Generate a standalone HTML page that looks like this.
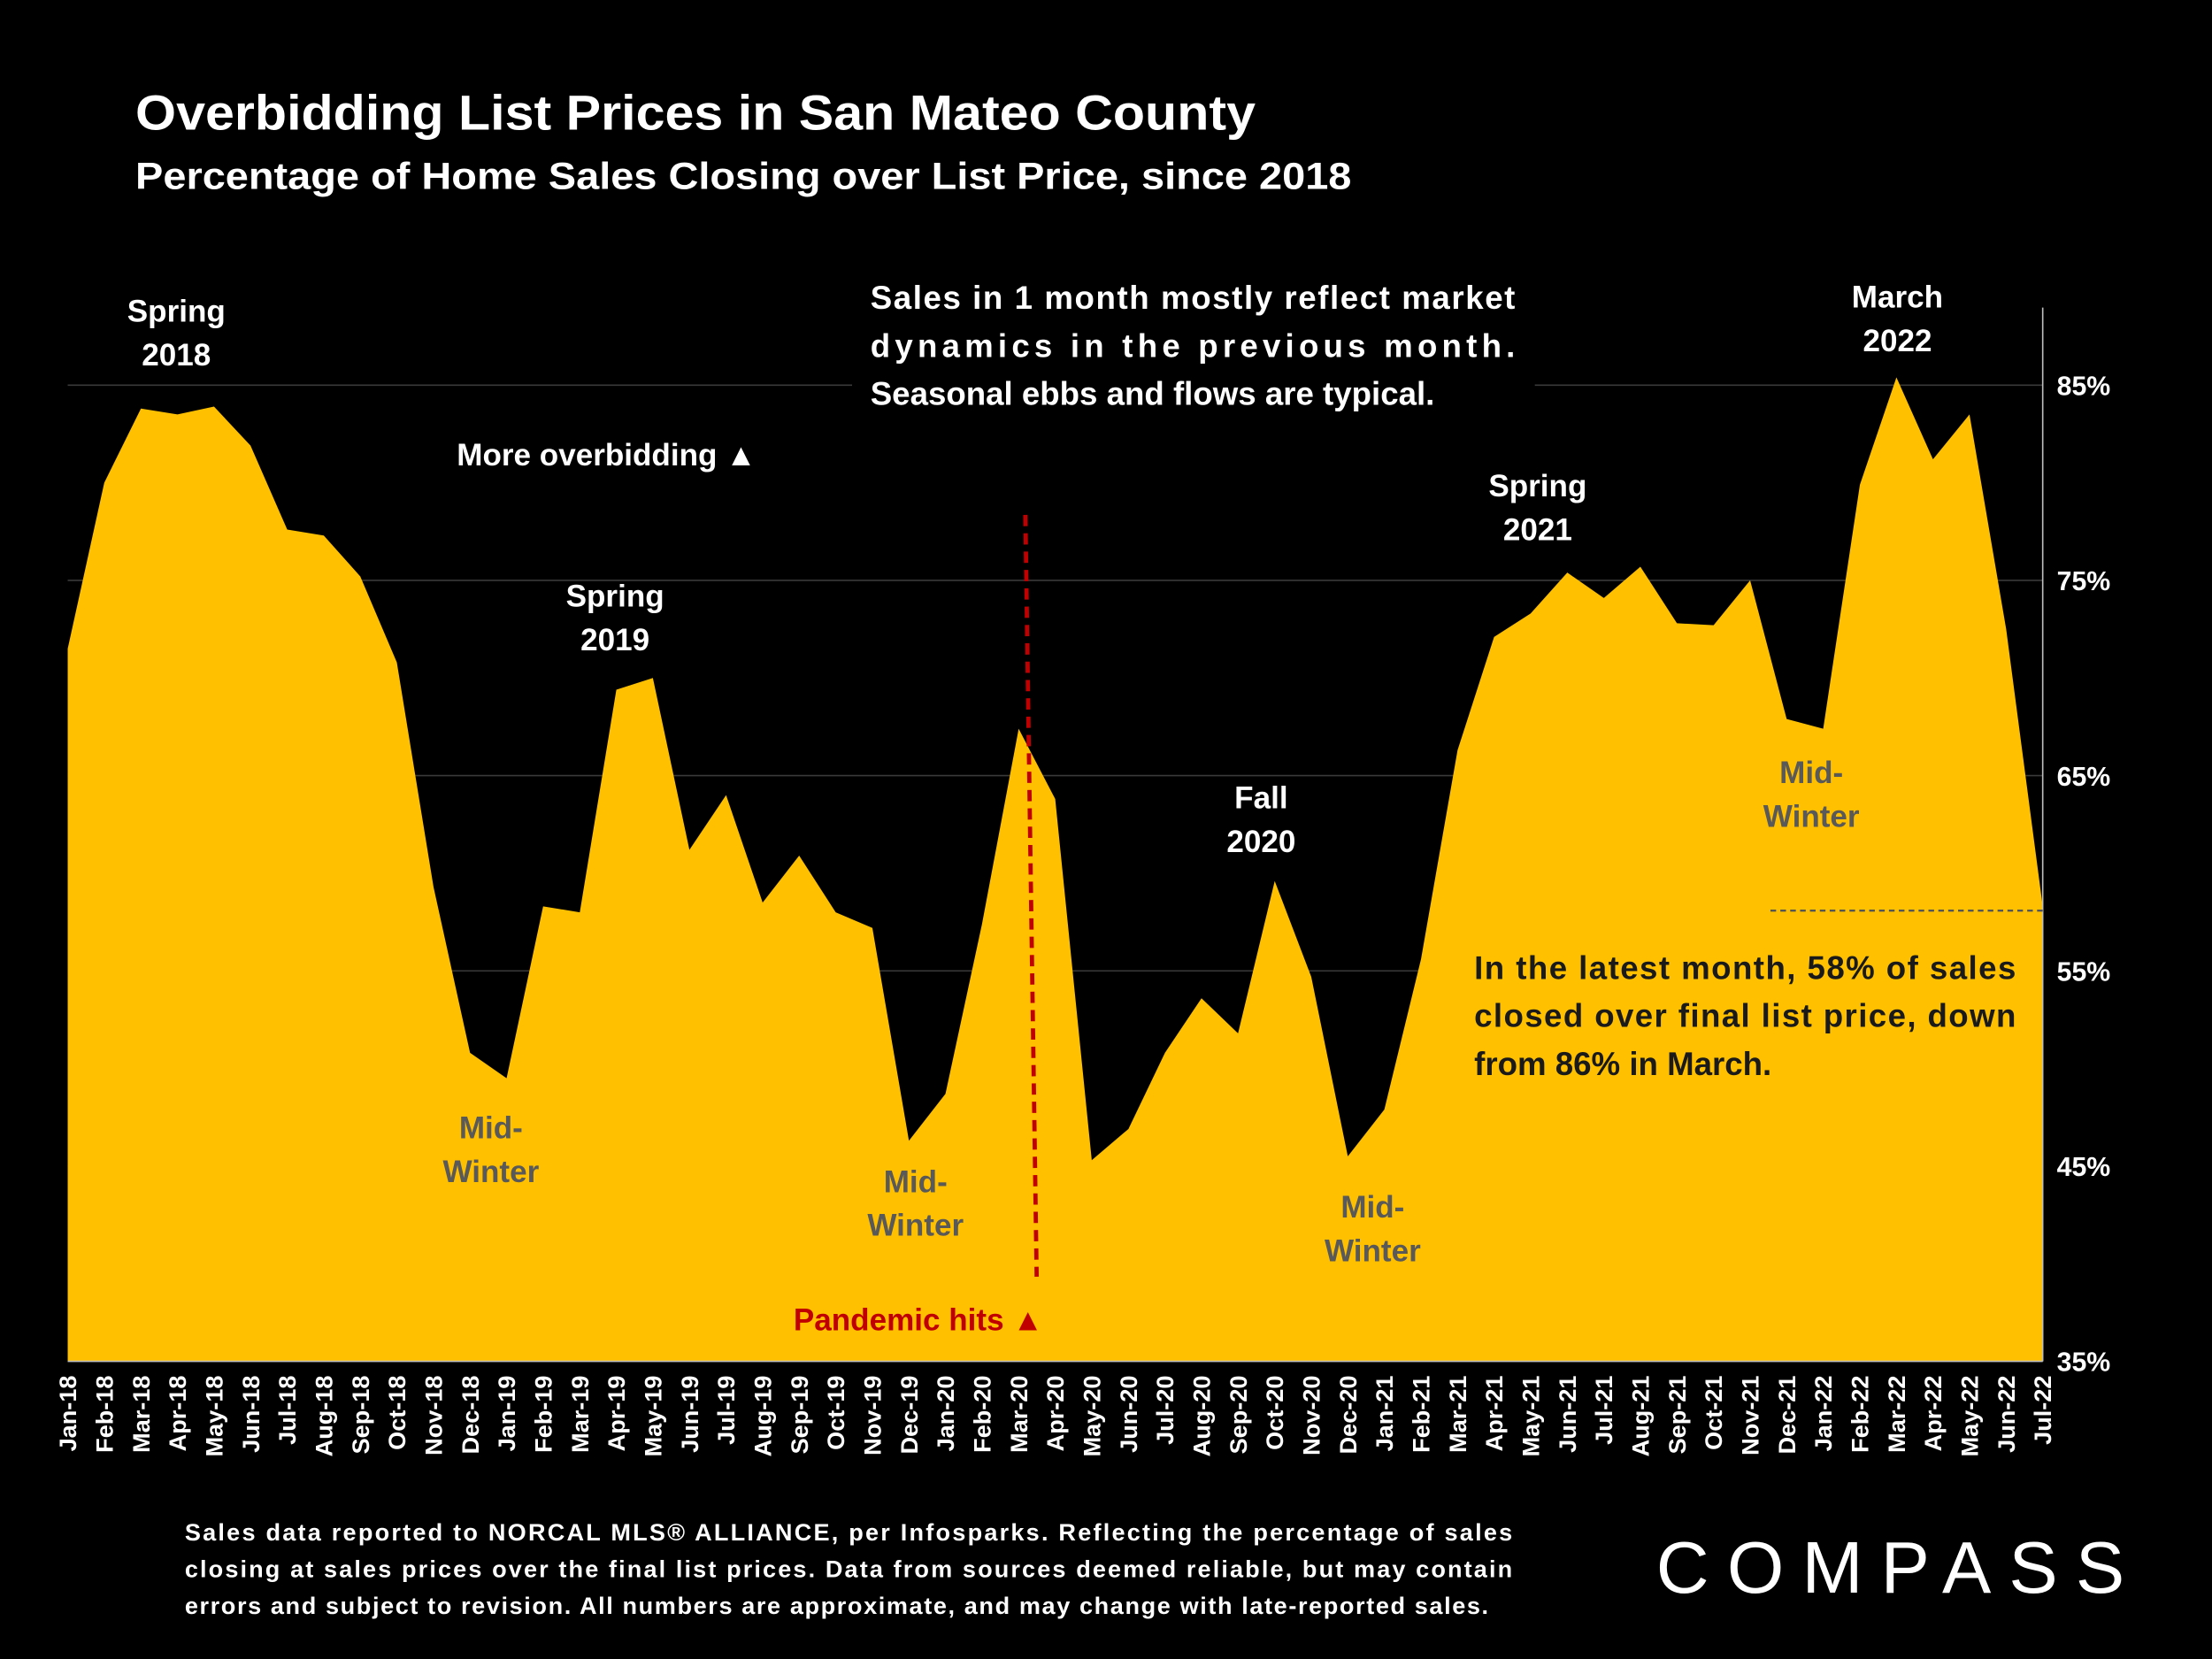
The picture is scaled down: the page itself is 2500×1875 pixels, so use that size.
<!DOCTYPE html>
<html><head><meta charset="utf-8"><style>
html,body{margin:0;padding:0;background:#000;}
svg{display:block;font-family:"Liberation Sans",sans-serif;}
</style></head><body>
<svg id="chart" width="2500" height="1875" viewBox="0 0 1568 1176" xmlns="http://www.w3.org/2000/svg">
<rect width="1568" height="1176" fill="#000"/>
<text x="96" y="92" font-size="35" font-weight="bold" fill="#fff" textLength="794" lengthAdjust="spacingAndGlyphs">Overbidding List Prices in San Mateo County</text>
<text x="96" y="134" font-size="27" font-weight="bold" fill="#fff" textLength="862" lengthAdjust="spacingAndGlyphs">Percentage of Home Sales Closing over List Price, since 2018</text>
<g id="grid"></g>
<g id="area"></g>
<g id="axes"></g>
<g font-weight="bold" font-size="22" text-anchor="middle">
<text x="125" y="228" fill="#fff">Spring</text>
<text x="125" y="259" fill="#fff">2018</text>
<text x="436" y="430" fill="#fff">Spring</text>
<text x="436" y="461" fill="#fff">2019</text>
<text x="894" y="573" fill="#fff">Fall</text>
<text x="894" y="604" fill="#fff">2020</text>
<text x="1090" y="352" fill="#fff">Spring</text>
<text x="1090" y="383" fill="#fff">2021</text>
<text x="1345" y="218" fill="#fff">March</text>
<text x="1345" y="249" fill="#fff">2022</text>
<text x="348" y="807" fill="#595959">Mid-</text>
<text x="348" y="838" fill="#595959">Winter</text>
<text x="649" y="845" fill="#595959">Mid-</text>
<text x="649" y="876" fill="#595959">Winter</text>
<text x="973" y="863" fill="#595959">Mid-</text>
<text x="973" y="894" fill="#595959">Winter</text>
<text x="1284" y="555" fill="#595959">Mid-</text>
<text x="1284" y="586" fill="#595959">Winter</text>
<text x="430" y="330" fill="#fff">More overbidding ▲</text>
<text x="651" y="943" fill="#c00000">Pandemic hits ▲</text>
</g>
<g font-weight="bold" font-size="23" fill="#fff">
<rect x="604" y="190" width="484" height="112" fill="#000"/>
<text x="617" y="219" textLength="457" lengthAdjust="spacing">Sales in 1 month mostly reflect market</text>
<text x="617" y="253" textLength="457" lengthAdjust="spacing">dynamics in the previous month.</text>
<text x="617" y="287">Seasonal ebbs and flows are typical.</text>
</g>
<g font-weight="bold" font-size="23" fill="#1a1a1a">
<text x="1045" y="694" textLength="384" lengthAdjust="spacing">In the latest month, 58% of sales</text>
<text x="1045" y="728" textLength="384" lengthAdjust="spacing">closed over final list price, down</text>
<text x="1045" y="762">from 86% in March.</text>
</g>
<g font-weight="bold" font-size="17" fill="#fff">
<text x="131" y="1092" textLength="941" lengthAdjust="spacing">Sales data reported to NORCAL MLS® ALLIANCE, per Infosparks. Reflecting the percentage of sales</text>
<text x="131" y="1118" textLength="941" lengthAdjust="spacing">closing at sales prices over the final list prices. Data from sources deemed reliable, but may contain</text>
<text x="131" y="1144" textLength="924" lengthAdjust="spacing">errors and subject to revision. All numbers are approximate, and may change with late-reported sales.</text>
</g>
<text x="1174" y="1129" font-size="52" fill="#fff" textLength="332" lengthAdjust="spacing">COMPASS</text>
<script>
const months = ["Jan-18","Feb-18","Mar-18","Apr-18","May-18","Jun-18","Jul-18","Aug-18","Sep-18","Oct-18","Nov-18","Dec-18","Jan-19","Feb-19","Mar-19","Apr-19","May-19","Jun-19","Jul-19","Aug-19","Sep-19","Oct-19","Nov-19","Dec-19","Jan-20","Feb-20","Mar-20","Apr-20","May-20","Jun-20","Jul-20","Aug-20","Sep-20","Oct-20","Nov-20","Dec-20","Jan-21","Feb-21","Mar-21","Apr-21","May-21","Jun-21","Jul-21","Aug-21","Sep-21","Oct-21","Nov-21","Dec-21","Jan-22","Feb-22","Mar-22","Apr-22","May-22","Jun-22","Jul-22"];
const pctOverList = [71.5,80.0,83.8,83.5,83.9,81.9,77.6,77.3,75.2,70.8,59.3,50.8,49.5,58.3,58.0,69.4,70.0,61.2,64.0,58.5,60.9,58.0,57.2,46.3,48.7,57.4,67.4,63.8,45.3,46.9,50.8,53.6,51.8,59.6,54.7,45.5,47.9,55.6,66.3,72.1,73.3,75.4,74.1,75.7,72.8,72.7,75.0,67.9,67.4,79.9,85.4,81.2,83.5,72.5,58.3];
const yTicks = [35,45,55,65,75,85];
const latestValue = 58.3;
const pandemicIndex = 26.3;

const NS="http://www.w3.org/2000/svg";
const X0=48,X1=1448,Y0=965,Y1=273,VMIN=35,VMAX=85;
const xs=i=>X0+(X1-X0)*i/(months.length-1);
const ys=v=>Y0-(v-VMIN)*(Y0-Y1)/(VMAX-VMIN);
function mk(tag,attrs,parent){const e=document.createElementNS(NS,tag);for(const k in attrs)e.setAttribute(k,attrs[k]);parent.appendChild(e);return e;}
const grid=document.getElementById('grid'),area=document.getElementById('area'),axes=document.getElementById('axes');
yTicks.forEach(t=>{
  const l=mk('line',{x1:X0,x2:X1,y1:ys(t),y2:ys(t),stroke:'#3a3a3a','stroke-width':1},grid);
  
  
  const tx=mk('text',{x:X1+10,y:ys(t)+7,'font-size':19,'font-weight':'bold',fill:'#fff'},axes);
  tx.textContent=t+'%';
  
  
});
let d='M'+xs(0)+','+Y0;
pctOverList.forEach((v,i)=>{d+=' L'+xs(i).toFixed(1)+','+ys(v).toFixed(1);});
d+=' L'+xs(months.length-1)+','+Y0+' Z';
const p=mk('path',{d:d,fill:'#ffc000'},area);


const ax=mk('line',{x1:X1,x2:X1,y1:218,y2:Y0,stroke:'#bfbfbf','stroke-width':1},axes);


const bx=mk('line',{x1:X0,x2:X1,y1:Y0,y2:Y0,stroke:'#bfbfbf','stroke-width':1},axes);


months.forEach((m,i)=>{
  const t=mk('text',{x:0,y:0,'font-size':17,'font-weight':'bold',fill:'#fff','text-anchor':'end',transform:'translate('+(xs(i)+6)+','+(Y0+10)+') rotate(-90)'},axes);
  t.textContent=m;
  
  
});
const dl=mk('line',{x1:1255,x2:X1,y1:ys(latestValue)+3,y2:ys(latestValue)+3,stroke:'#555','stroke-width':1.5,'stroke-dasharray':'4,3'},axes);


const px=xs(pandemicIndex);
const pl=mk('line',{x1:px-3,x2:px+5,y1:365,y2:905,stroke:'#c00000','stroke-width':3,'stroke-dasharray':'8,5'},axes);


</script>
</svg>
</body></html>
